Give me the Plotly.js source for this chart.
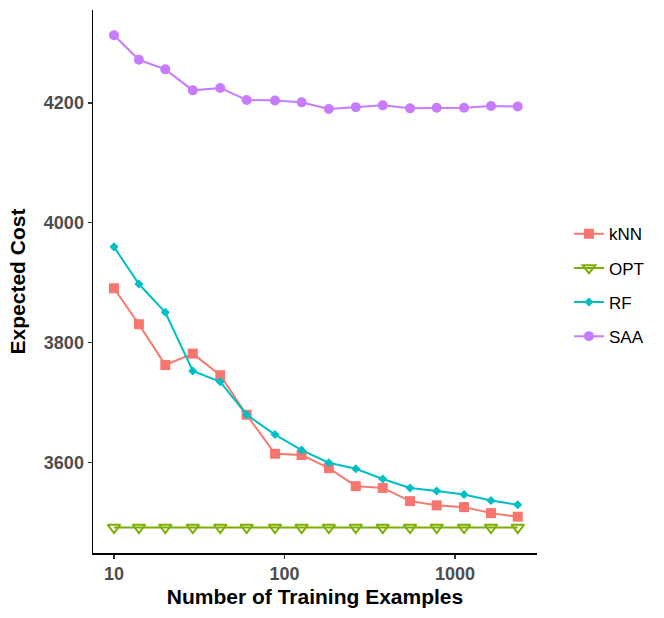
<!DOCTYPE html>
<html>
<head>
<meta charset="utf-8">
<script src="https://cdn.plot.ly/plotly-3.0.1.min.js"></script>
<style>
  html, body { margin: 0; padding: 0; background: white; }
  #chart { width: 664px; height: 618px; }
</style>
</head>
<body>
<div id="chart"></div>
<script>
// training set sizes (log x axis)
const nTrain = [10, 14, 20, 29, 42, 60, 88, 126, 182, 262, 377, 545, 781, 1130, 1626, 2333];

const knnCost = [3891, 3831, 3763, 3782, 3746, 3680, 3615, 3613, 3591, 3561, 3558, 3536, 3529, 3526, 3516, 3510];
const optCost = [3492, 3492, 3492, 3492, 3492, 3492, 3492, 3492, 3492, 3492, 3492, 3492, 3492, 3492, 3492, 3492];
const rfCost  = [3960, 3898, 3851, 3753, 3735, 3680, 3647, 3621, 3600, 3590, 3573, 3558, 3553, 3547, 3537, 3530];
const saaCost = [4313, 4272, 4256, 4221, 4225, 4205, 4204, 4201, 4190, 4193, 4196, 4191, 4192, 4192, 4195, 4194];

const yTicks = [3600, 3800, 4000, 4200];
const xTicks = [10, 100, 1000];

function series(name, y, color, symbol, size, lw) {
    return {
        x: nTrain,
        y: y,
        name: name,
        legendgroup: name,
        type: 'scatter',
        mode: 'lines+markers',
        line: { color: color, width: 2 },
        marker: { color: color, symbol: symbol, size: size, line: { color: color, width: lw } },
    }
}

const data = [
    series('kNN', knnCost, '#F8766D', 'square', 10, 0),
    series('OPT', optCost, '#7CAE00', 'triangle-down-open', 11, 2),
    series('RF', rfCost, '#00BFC4', 'diamond', 7, 0),
    series('SAA', saaCost, '#C77CFF', 'circle', 10, 0),
]

const tickFont = { family: 'Liberation Sans, Arial, sans-serif', size: 18, color: '#4D4D4D', weight: 'bold' }
const titleFont = { family: 'Liberation Sans, Arial, sans-serif', size: 21, color: 'black', weight: 'bold' }

const layout = {
    width: 664,
    height: 618,
    paper_bgcolor: 'white',
    plot_bgcolor: 'white',
    font: { family: 'Liberation Sans, Arial, sans-serif' },
    margin: { l: 93, r: 127, t: 10, b: 65, pad: 0 },
    xaxis: {
        type: 'log',
        range: [0.877, 3.481],
        tickvals: xTicks,
        ticktext: xTicks.map(String),
        ticks: 'outside',
        ticklen: 4,
        tickwidth: 1.2,
        tickcolor: '#333333',
        tickfont: tickFont,
        showgrid: false,
        zeroline: false,
        showline: true,
        linecolor: 'black',
        linewidth: 1.5,
        title: { text: 'Number of Training Examples', font: titleFont, standoff: 6 },
    },
    yaxis: {
        range: [3449.5, 4355],
        tickvals: yTicks,
        ticks: 'outside',
        ticklen: 4,
        tickwidth: 1.2,
        tickcolor: '#333333',
        tickfont: tickFont,
        showgrid: false,
        zeroline: false,
        showline: true,
        linecolor: 'black',
        linewidth: 1.5,
        title: { text: 'Expected Cost', font: titleFont, standoff: 12 },
    },
    legend: {
        x: 1.072,
        y: 0.493,
        xanchor: 'left',
        yanchor: 'middle',
        font: { family: 'Liberation Sans, Arial, sans-serif', size: 17, color: 'black' },
        tracegroupgap: 9,
        bgcolor: 'rgba(0,0,0,0)',
    },
}

Plotly.newPlot('chart', data, layout, { staticPlot: true })
</script>
</body>
</html>
